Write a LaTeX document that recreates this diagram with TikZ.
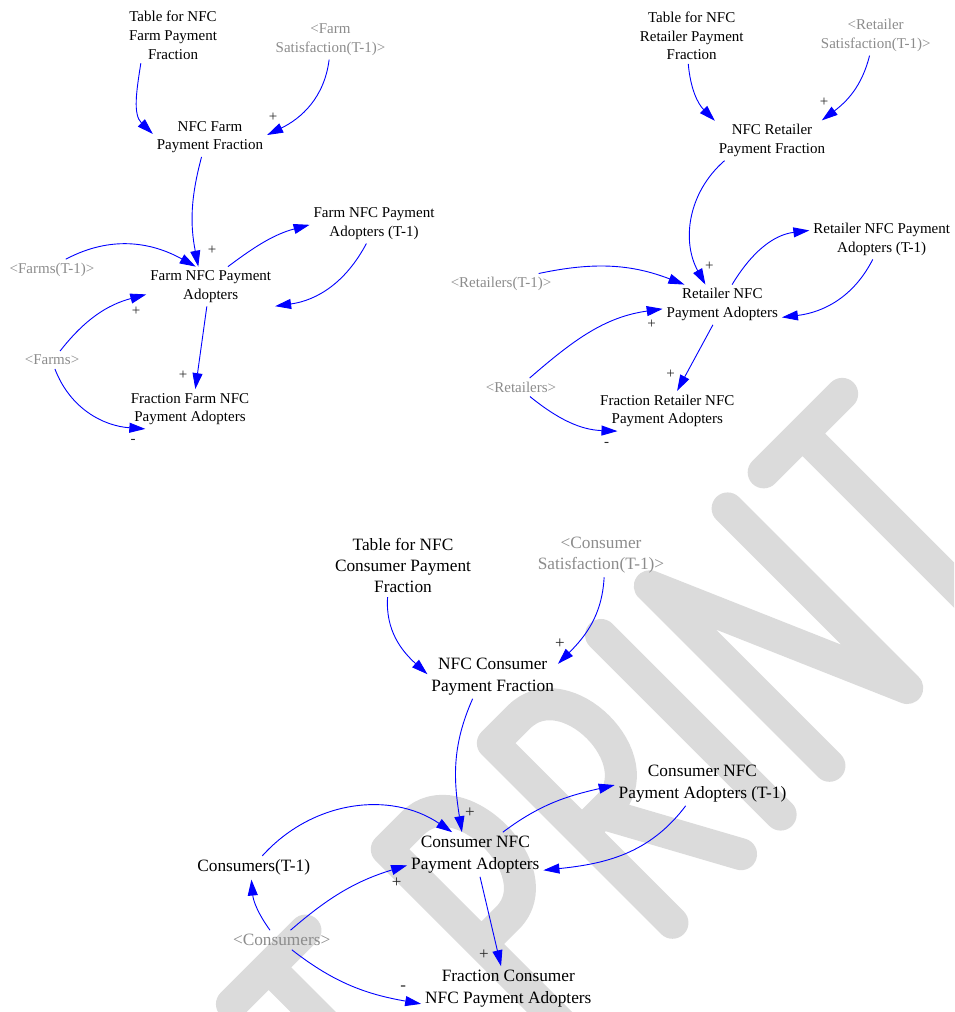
\documentclass[tikz,border=0pt]{standalone}
\usepackage{fontspec}
\setmainfont{Liberation Serif}
\usetikzlibrary{arrows.meta}
\begin{document}
\begin{tikzpicture}[x=1pt,y=1pt,
  v/.style={align=center,inner sep=1pt,outer sep=3pt,font=\fontsize{15}{18.6}\selectfont},
  vb/.style={align=center,inner sep=1pt,outer sep=3pt,font=\fontsize{17.3}{21.4}\selectfont},
  sh/.style={text=black!45},
  pol/.style={inner sep=0pt,text=black!85,font=\fontsize{15}{15}\selectfont},
  polb/.style={inner sep=0pt,text=black!85,font=\fontsize{17}{17}\selectfont},
  lnk/.style={draw=blue,line width=0.9pt,-{Triangle[length=16pt,width=10pt]}},
  wm/.style={draw=black!14,line width=32pt,line cap=round,line join=round}]
\useasboundingbox (0,0) rectangle (954,-1012);
% watermark
\begin{scope}
\clip (0,0) rectangle (954,-1012);
\begin{scope}[x={(0.7071pt,0.7071pt)},y={(-0.7071pt,0.7071pt)}]
 \draw[wm] (-546,-874) -- (-442,-874) (-494,-874) -- (-494,-1128);
 \draw[wm] (-327,-1128) -- (-327,-874) -- (-290,-874) .. controls (-225,-874) and (-225,-1008) .. (-290,-1008) -- (-327,-1008);
 \draw[wm] (-177,-1128) -- (-177,-874) -- (-140,-874) .. controls (-75,-874) and (-75,-1000) .. (-140,-1000) -- (-177,-1000) (-150,-1000) -- (-80,-1128);
 \draw[wm] (-24,-874) -- (-24,-1128);
 \draw[wm] (45,-1128) -- (45,-874) -- (155,-1128) -- (155,-874);
 \draw[wm] (206,-874) -- (317,-874) (261,-874) -- (261,-1128);
\end{scope}
\end{scope}
% ---------- top-left ----------
\node[v] (t1) at (173,-35.3) {Table for NFC\\Farm Payment\\Fraction};
\node[v,sh] (s1) at (330.5,-39.8) {<Farm\\Satisfaction(T-1)>};
\node[v] (f1) at (210,-137) {NFC Farm\\Payment Fraction};
\node[v] (p1) at (374,-223.7) {Farm NFC Payment\\Adopters (T-1)};
\node[v,sh] (r1) at (52,-270) {<Farms(T-1)>};
\node[v] (a1) at (210.7,-286.5) {Farm NFC Payment\\Adopters};
\node[v,sh] (g1) at (52,-360) {<Farms>};
\node[v] (x1) at (190,-409) {Fraction Farm NFC\\Payment Adopters};
\draw[lnk] (t1.221) to[out=-99,in=136] (f1.177);
\draw[lnk] (s1.-94) to[out=-97,in=26] (f1.2);
\draw[lnk] (f1.-113) to[out=-105,in=101] (a1.122);
\draw[lnk] (r1.38) to[out=28,in=151] (a1.127);
\draw[lnk] (a1.49) to[out=37,in=-165] (p1.181);
\draw[lnk] (p1.-111) to[out=-118,in=8] (a1.-17);
\draw[lnk] (g1.48) to[out=52,in=-165] (a1.187);
\draw[lnk] (a1.-101) -- (x1.75);
\draw[lnk] (g1.-72) to[out=-69,in=176] (x1.204);
\node[pol] (l11) at (273,-117) {+};
\node[pol] (l12) at (212,-250) {+};
\node[pol] (l13) at (136,-311) {+};
\node[pol] (l14) at (183,-375) {+};
\node[pol] (l15) at (133,-441) {-};
% ---------- top-right ----------
\node[v] (t2) at (691.7,-36) {Table for NFC\\Retailer Payment\\Fraction};
\node[v,sh] (s2) at (875.7,-35.5) {<Retailer\\Satisfaction(T-1)>};
\node[v] (f2) at (772,-140.5) {NFC Retailer\\Payment Fraction};
\node[v] (p2) at (881.7,-239.3) {Retailer NFC Payment\\Adopters (T-1)};
\node[v,sh] (r2) at (501,-284.3) {<Retailers(T-1)>};
\node[v] (a2) at (722.3,-304.7) {Retailer NFC\\Payment Adopters};
\node[v,sh] (g2) at (521,-387.3) {<Retailers>};
\node[v] (x2) at (667.3,-411) {Fraction Retailer NFC\\Payment Adopters};
\draw[lnk] (t2.-97) to[out=-85,in=135] (f2.161);
\draw[lnk] (s2.-107) to[out=-104,in=37] (f2.22);
\draw[lnk] (f2.203) to[out=221,in=119] (a2.130);
\draw[lnk] (r2.16) to[out=12,in=159] (a2.152);
\draw[lnk] (a2.64) to[out=59,in=187] (p2.173);
\draw[lnk] (p2.-114) to[out=-117,in=7] (a2.-12);
\draw[lnk] (g2.47) to[out=41,in=188] (a2.184);
\draw[lnk] (a2.-115) -- (x2.64);
\draw[lnk] (g2.-46) to[out=-39,in=178] (x2.202);
\node[pol] (l21) at (824,-102.7) {+};
\node[pol] (l22) at (709.3,-266.7) {+};
\node[pol] (l23) at (651.7,-324) {+};
\node[pol] (l24) at (670.7,-374) {+};
\node[pol] (l25) at (606.7,-444) {-};
% ---------- bottom ----------
\node[vb] (t3) at (403,-565.5) {Table for NFC\\Consumer Payment\\Fraction};
\node[vb,sh] (s3) at (601,-555) {<Consumer\\Satisfaction(T-1)>};
\node[vb] (f3) at (492.7,-676.5) {NFC Consumer\\Payment Fraction};
\node[vb] (p3) at (702.5,-783.5) {Consumer NFC\\Payment Adopters (T-1)};
\node[vb] (r3) at (253.7,-867.7) {Consumers(T-1)};
\node[vb] (a3) at (475.3,-854.5) {Consumer NFC\\Payment Adopters};
\node[vb,sh] (g3) at (281.7,-940) {<Consumers>};
\node[vb] (x3) at (508.3,-988.5) {Fraction Consumer\\NFC Payment Adopters};
\draw[lnk] (t3.-116) to[out=-94,in=138] (f3.178);
\draw[lnk] (s3.-82) to[out=-93,in=45] (f3.11);
\draw[lnk] (f3.-132) to[out=-114,in=99] (a3.121);
\draw[lnk] (r3.54) to[out=48,in=146] (a3.136);
\draw[lnk] (a3.39) to[out=37,in=193] (p3.181);
\draw[lnk] (p3.-127) to[out=-127,in=6] (a3.-13);
\draw[lnk] (g3.48) to[out=41,in=197] (a3.189);
\draw[lnk] (g3.140) to[out=126,in=-85] (r3.-101);
\draw[lnk] (a3.-78) -- (x3.108);
\draw[lnk] (g3.-44) to[out=-38,in=170] (x3.190);
\node[polb] (l31) at (560,-643.3) {+};
\node[polb] (l32) at (470,-812.3) {+};
\node[polb] (l33) at (396.7,-882.3) {+};
\node[polb] (l34) at (484,-955) {+};
\node[polb] (l35) at (403.3,-988.3) {-};
\end{tikzpicture}
\end{document}
